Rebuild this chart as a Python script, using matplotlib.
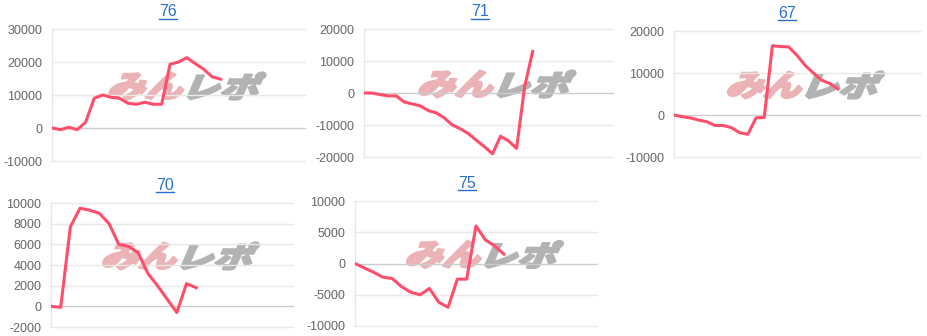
import numpy as np
import matplotlib
matplotlib.use('Agg')
from matplotlib import pyplot as plt
from matplotlib.textpath import TextPath
from matplotlib.patches import PathPatch
from matplotlib.font_manager import FontProperties
from matplotlib.transforms import Affine2D, IdentityTransform
from matplotlib.lines import Line2D

plt.rcParams['font.family'] = ['Liberation Sans', 'DejaVu Sans']

# machine numbers (titles)
titles = ['76', '71', '67', '70', '75']

# cumulative balance per chart
v76 = [0, -500, 200, -500, 1800, 9000, 10000, 9300, 9000, 7500, 7200, 7800,
       7200, 7200, 19300, 20000, 21300, 19500, 17800, 15500, 14800]
v71 = [0, 0, -500, -900, -900, -2800, -3400, -4000, -5500, -6200, -7800,
       -10000, -11200, -12700, -14800, -16800, -19000, -13500, -15000,
       -17300, 2000, 13000]
v67 = [0, -400, -700, -1200, -1600, -2500, -2500, -3000, -4200, -4600, -700,
       -600, 16500, 16300, 16200, 14200, 11800, 10000, 8300, 7500, 6200]
v70 = [0, -100, 7700, 9500, 9300, 9000, 8000, 6000, 5800, 5200, 3200, 2000,
       700, -600, 2200, 1800]
v75 = [0, -700, -1400, -2200, -2400, -3700, -4600, -5000, -4000, -6200, -7000,
       -2500, -2500, 6000, 3800, 2800, 1500]

series = [v76, v71, v67, v70, v75]
yticks = [np.arange(-10000, 30001, 10000),
          np.arange(-20000, 20001, 10000),
          np.arange(-10000, 20001, 10000),
          np.arange(-2000, 10001, 2000),
          np.arange(-10000, 10001, 5000)]
xmax = [30, 31, 30, 25, 26]

W, H = 928, 336
# axes boxes in pixels: left, right, top, bottom
boxes = [(52, 305, 29, 161), (364, 613, 29, 157), (674, 920, 31, 157),
         (51, 293, 203, 327), (355, 597, 201, 326)]
title_pos = [(168, 16.5), (480, 16.5), (787, 17.5), (165, 189.5), (467, 187.5)]

LINE = '#ff4d6a'
fig = plt.figure(figsize=(W / 100, H / 100), dpi=100)

wm_font = FontProperties(family='Noto Sans CJK JP', weight='black')


def watermark(cx, cy, text, color, w, h):
    # skewed text path fitted into a w x h pixel box centred at cx, cy (top-left origin)
    p = TextPath((0, 0), text, size=40, prop=wm_font)
    p = Affine2D().skew_deg(18, 0).transform_path(p)
    ext = p.get_extents()
    tr = (Affine2D().translate(-ext.x0, -ext.y0)
          .scale(w / ext.width, h / ext.height)
          .translate(cx - w / 2, H - cy - h / 2))
    fig.add_artist(PathPatch(tr.transform_path(p), facecolor=color,
                             edgecolor=color, lw=1.6, joinstyle='round',
                             transform=IdentityTransform(), zorder=1))


axes = []
for i, vals in enumerate(series):
    l, r, t, b = boxes[i]
    ax = fig.add_axes([l / W, 1 - b / H, (r - l) / W, (b - t) / H])
    ax.set_zorder(2)
    ax.patch.set_alpha(0)
    yt = yticks[i]
    ax.set_xlim(0, xmax[i])
    ax.set_ylim(yt[0], yt[-1])
    for y in yt:
        ax.axhline(y, color='#cccccc' if y == 0 else '#e8e8e8', lw=1,
                   clip_on=False, zorder=1)
    ax.axvline(0, color='#e8e8e8', lw=1, clip_on=False, zorder=1)
    ax.plot(np.arange(len(vals)), vals, color=LINE, lw=2.2,
            solid_joinstyle='round', zorder=3)
    ax.set_yticks(yt)
    ax.set_yticklabels([str(int(y)) for y in yt])
    ax.set_xticks([])
    ax.tick_params(axis='y', length=0, pad=7, labelsize=9, labelcolor='#666666')
    for s in ax.spines.values():
        s.set_visible(False)

    # watermark
    cx = (l + r) / 2 + 8
    cy = (t + b) / 2 - 9
    watermark(cx - 40, cy, 'みん', '#ebb3b5', 74, 27)
    watermark(cx + 40, cy, 'レポ', '#b3b3b3', 78, 27)
    axes.append(ax)

# underlined link-style titles
texts = []
for i, name in enumerate(titles):
    x, y = title_pos[i]
    texts.append(fig.text(x / W, 1 - y / H, name, ha='center', va='baseline',
                          fontsize=11.5, color='#2a6fcf'))
fig.canvas.draw()
rend = fig.canvas.get_renderer()
for tx in texts:
    bb = tx.get_window_extent(rend)
    yb = tx.get_position()[1] * H - 2
    fig.add_artist(Line2D([bb.x0 / W, bb.x1 / W], [yb / H, yb / H],
                          color='#2a6fcf', lw=1, transform=fig.transFigure))

fig.savefig('out.png', dpi=100)
